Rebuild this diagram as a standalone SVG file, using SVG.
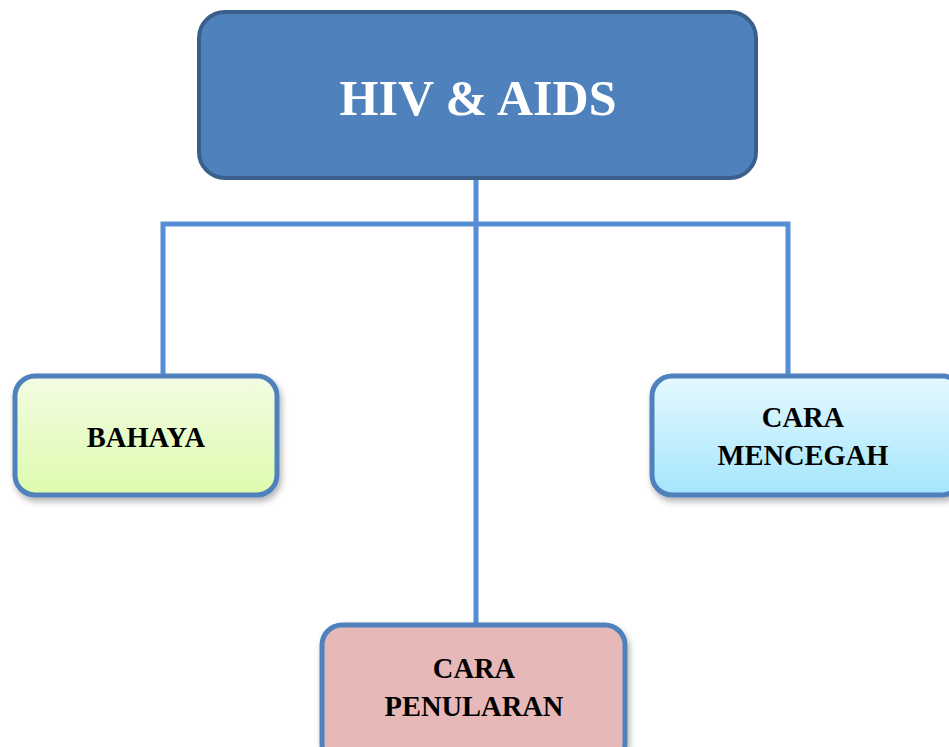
<svg xmlns="http://www.w3.org/2000/svg" width="949" height="747" viewBox="0 0 949 747">
<style>
.conn{stroke:#558ED5;stroke-width:5;fill:none}
.box{stroke:#4F81BD;stroke-width:5}
.lbl{font-family:"Liberation Serif","Times New Roman",serif;font-weight:bold;font-size:28.5px;fill:#000;text-anchor:middle}
.title{font-family:"Liberation Serif","Times New Roman",serif;font-weight:bold;font-size:50px;fill:#fff;text-anchor:middle}
</style>
<defs>
<linearGradient id="gGreen" x1="0" y1="0" x2="0" y2="1"><stop offset="0" stop-color="#F3FCE2"/><stop offset="1" stop-color="#DDFBAE"/></linearGradient>
<linearGradient id="gBlue" x1="0" y1="0" x2="0" y2="1"><stop offset="0" stop-color="#E6F9FE"/><stop offset="1" stop-color="#A4E5FC"/></linearGradient>
<filter id="sh" x="-10%" y="-10%" width="125%" height="130%"><feDropShadow dx="2" dy="4" stdDeviation="3" flood-color="#000" flood-opacity="0.3"/></filter>
</defs>
<rect width="949" height="747" fill="#fff"/>
<g id="connectors">
<line class="conn" x1="476" y1="178" x2="476" y2="624"/>
<polyline class="conn" points="163,376 163,224 788,224 788,376"/>
</g>
<g id="hiv-aids">
<rect x="199" y="12" width="557" height="166" rx="26" fill="#4F81BD" stroke="#3A5F8C" stroke-width="4"/>
<text class="title" x="478" y="115">HIV &amp; AIDS</text>
</g>
<g id="bahaya">
<rect class="box" x="15" y="376" width="262" height="119" rx="20" fill="url(#gGreen)" filter="url(#sh)"/>
<text class="lbl" x="146" y="447">BAHAYA</text>
</g>
<g id="cara-mencegah">
<rect class="box" x="652" y="376" width="310" height="119" rx="20" fill="url(#gBlue)" filter="url(#sh)"/>
<text class="lbl" x="803" y="427">CARA</text>
<text class="lbl" x="803" y="465">MENCEGAH</text>
</g>
<g id="cara-penularan">
<rect class="box" x="322" y="625" width="303" height="140" rx="20" fill="#E6B8B7" filter="url(#sh)"/>
<text class="lbl" x="474" y="678">CARA</text>
<text class="lbl" x="474" y="716">PENULARAN</text>
</g>
</svg>
